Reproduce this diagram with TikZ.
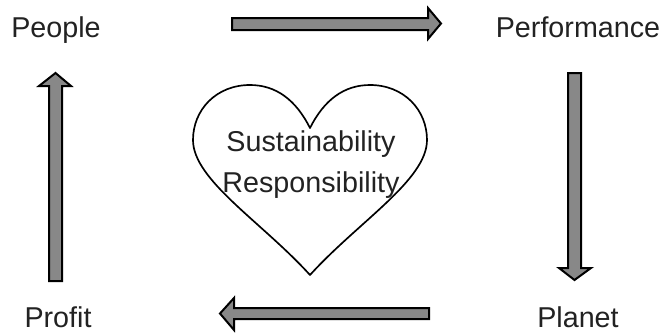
\documentclass[tikz,border=0pt]{standalone}
\usepackage{fontspec}
\setmainfont{Liberation Sans}
\definecolor{arrowgray}{rgb}{0.533333,0.533333,0.533333}
\definecolor{textgray}{rgb}{0.133333,0.133333,0.133333}
\tikzset{
  label/.style={anchor=base, inner sep=0pt, text=textgray, font=\fontsize{24.5}{29}\selectfont},
  blockarrow/.style={draw=black, fill=arrowgray, line width=0.06cm, line join=miter}
}
\begin{document}
\begin{tikzpicture}[x=0.03cm, y=-0.03cm]
  \useasboundingbox (0,0) rectangle (665,333);

  % Corner labels
  \node[label] (people) at (56,37) {People};
  \node[label] (performance) at (578,37) {Performance};
  \node[label] (planet) at (578,327) {Planet};
  \node[label] (profit) at (58,327) {Profit};

  % Arrow people -> performance
  \draw [blockarrow] (232,18) -- (428,18) -- (428,8) -- (441,23.5) -- (428,39) -- (428,30) -- (232,30) -- cycle;%

  % Arrow performance -> planet
  \draw [blockarrow] (568,73) -- (581,73) -- (581,268) -- (591,268) -- (574.5,280) -- (559,268) -- (568,268) -- cycle;%

  % Arrow planet -> profit
  \draw [blockarrow] (429,308) -- (234,308) -- (234,298) -- (220,313.5) -- (234,330) -- (234,319) -- (429,319) -- cycle;%

  % Arrow profit -> people
  \draw [blockarrow] (49,281) -- (49,86) -- (39,86) -- (55.5,73) -- (71,86) -- (62,86) -- (62,281) -- cycle;%

  % Drawing heart
  \draw [line width=0.05cm, line join=round] (310,128)
    .. controls (296,100) and (276,85) .. (250,85)
    .. controls (216,85) and (193,110) .. (193,140)
    .. controls (193,180) and (262,222) .. (310,275)
    .. controls (358,222) and (427,180) .. (427,140)
    .. controls (427,110) and (404,85) .. (370,85)
    .. controls (344,85) and (324,100) .. (310,128) -- cycle;%

  % Heart text
  \node[label] (sustainability) at (311,151) {Sustainability};
  \node[label] (responsibility) at (311,192) {Responsibility};
\end{tikzpicture}
\end{document}
